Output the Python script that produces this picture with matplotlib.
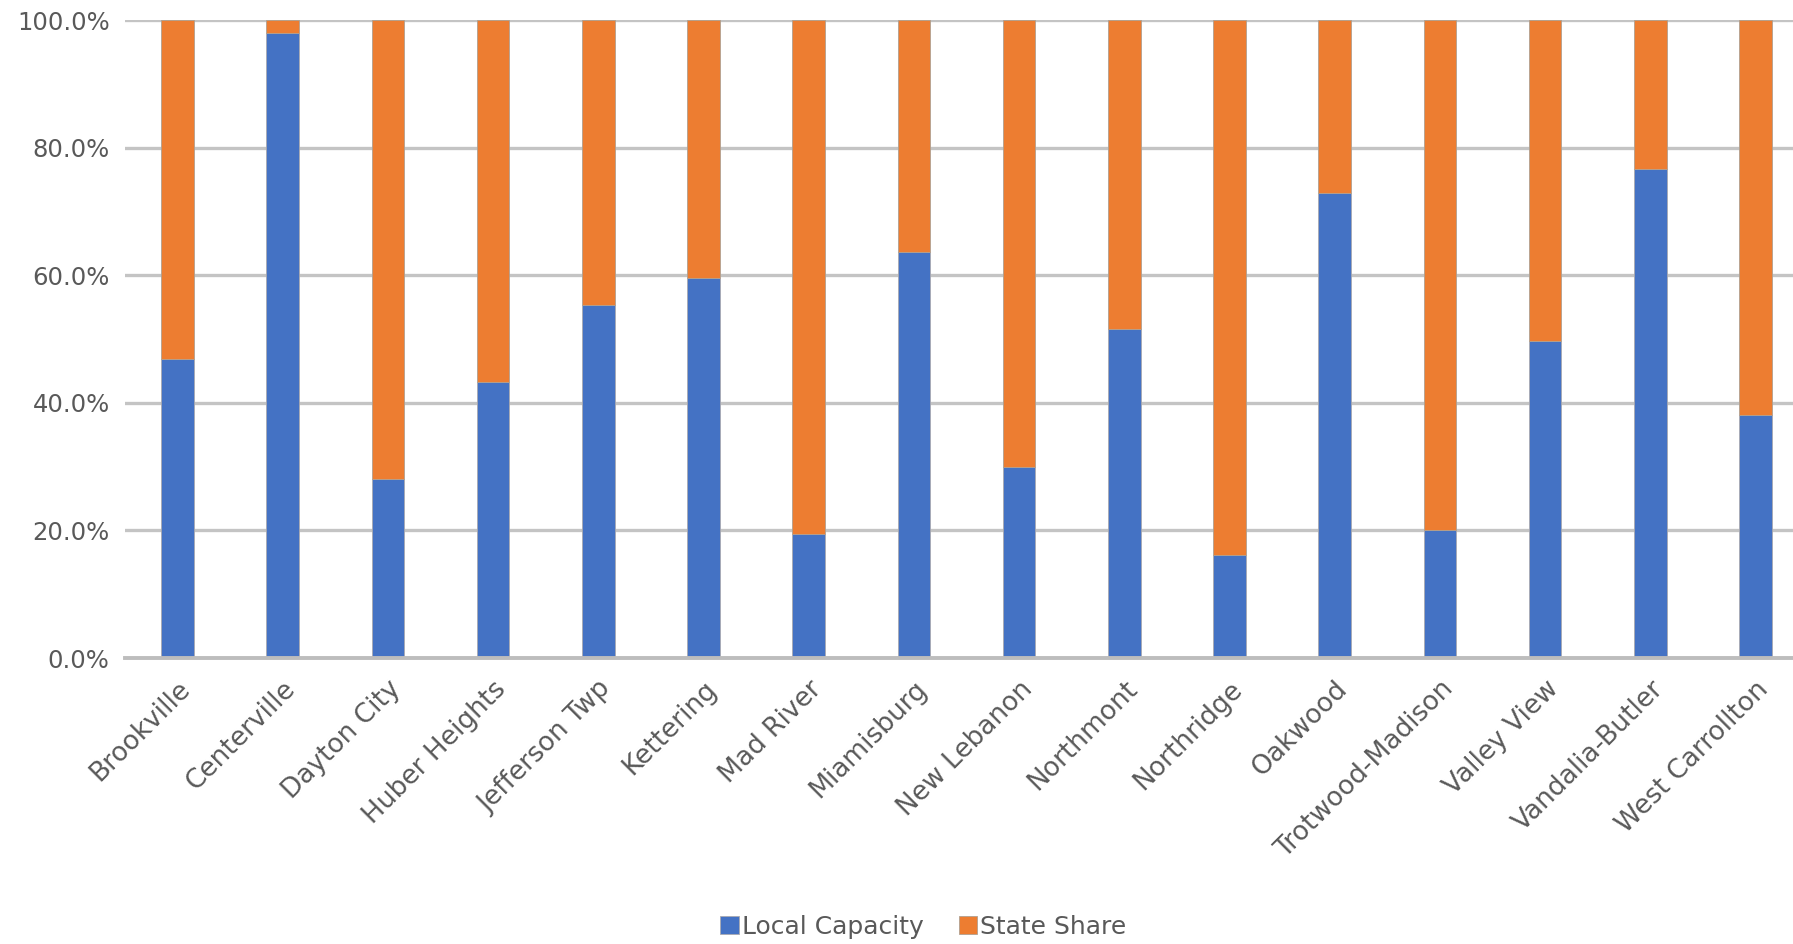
import matplotlib.pyplot as plt
from matplotlib.ticker import PercentFormatter

# Data
districts = ["Brookville", "Centerville", "Dayton City", "Huber Heights",
             "Jefferson Twp", "Kettering", "Mad River", "Miamisburg",
             "New Lebanon", "Northmont", "Northridge", "Oakwood",
             "Trotwood-Madison", "Valley View", "Vandalia-Butler",
             "West Carrollton"]
local_capacity = [46.9, 98.0, 28.1, 43.3, 55.4, 59.6, 19.4, 63.7,
                  30.0, 51.5, 16.1, 72.9, 20.0, 49.7, 76.7, 38.1]
state_share = [100 - v for v in local_capacity]

# Style
blue = "#4472C4"
orange = "#ED7D31"
grid_color = "#C4C4C4"
text_color = "#595959"
plt.rcParams["font.family"] = "DejaVu Sans"

fig = plt.figure(figsize=(17.93, 9.44), dpi=100)
ax = fig.add_axes([125 / 1793, 1 - 658 / 944, 1683 / 1793, 638 / 944])

x = range(len(districts))
ax.bar(x, local_capacity, width=0.31, color=blue, edgecolor="#A9A9B0",
       linewidth=0.6, label="Local Capacity", zorder=3)
ax.bar(x, state_share, width=0.31, bottom=local_capacity, color=orange,
       edgecolor="#B0A090", linewidth=0.6, label="State Share", zorder=3)

ax.set_xlim(-0.5, len(districts) - 0.5)
ax.set_ylim(0, 100)
ax.set_yticks([0, 20, 40, 60, 80, 100])
ax.yaxis.set_major_formatter(PercentFormatter(decimals=1))
ax.grid(axis="y", color=grid_color, linewidth=2.4, zorder=0)
ax.set_axisbelow(True)

for side in ["top", "right", "left"]:
    ax.spines[side].set_visible(False)
ax.spines["bottom"].set_color("#BDBDBD")
ax.spines["bottom"].set_linewidth(2.8)
ax.spines["bottom"].set_zorder(4)

ax.set_xticks(list(x))
ax.set_xticklabels(districts, rotation=45, ha="right", rotation_mode="anchor",
                   fontsize=19, color=text_color)
ax.tick_params(axis="x", length=0, pad=13)
ax.tick_params(axis="y", length=0, pad=11, labelsize=17.5, labelcolor=text_color)

fig.legend(loc="center", bbox_to_anchor=(0.515, 0.018), ncol=2, frameon=False,
           fontsize=18, labelcolor=text_color, handlelength=0.75,
           handleheight=0.75, handletextpad=0.12, columnspacing=1.4)

fig.savefig("out.png", dpi=100)
